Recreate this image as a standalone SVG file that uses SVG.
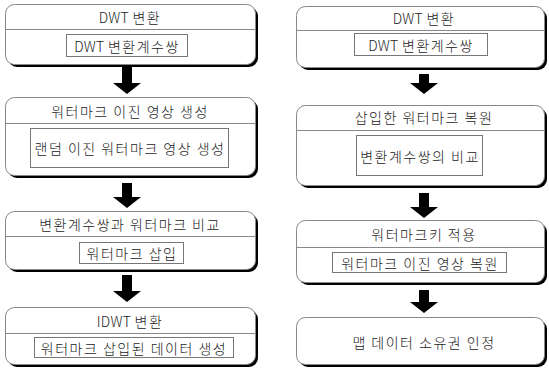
<svg xmlns="http://www.w3.org/2000/svg" width="549" height="369" viewBox="0 0 549 369">
<style>
.sh{fill:#000}
.box{fill:#fff;stroke:#888;stroke-width:1}
.div{stroke:#888;stroke-width:1}
.in{fill:#fff;stroke:#777;stroke-width:1}
.t{font-family:"Noto Sans CJK KR","Noto Sans",sans-serif;font-size:14px;font-weight:300;letter-spacing:1.5px;fill:#222;text-anchor:middle;dominant-baseline:central}
.l{letter-spacing:0.3px}
.arr{fill:#000}
</style>
<rect x="0" y="0" width="549" height="369" fill="#fff"/>
<g id="L1">
<rect class="sh" x="8" y="7" width="250" height="60" rx="9"/>
<rect class="box" x="5.5" y="4.5" width="250" height="60" rx="9"/>
<line class="div" x1="5.5" y1="29.5" x2="255.5" y2="29.5"/>
<text class="t" x="130" y="17"><tspan class="l">DWT </tspan>변환</text>
<rect class="in" x="66.5" y="34.5" width="121" height="22"/>
<text class="t" x="127" y="45.5"><tspan class="l">DWT </tspan>변환계수쌍</text>
</g>
<g id="L2">
<rect class="sh" x="8" y="100" width="250" height="78" rx="9"/>
<rect class="box" x="5.5" y="97.5" width="250" height="78" rx="9"/>
<line class="div" x1="5.5" y1="123.5" x2="255.5" y2="123.5"/>
<text class="t" x="130" y="111">워터마크 이진 영상 생성</text>
<rect class="in" x="30.5" y="128.5" width="198" height="39"/>
<text class="t" x="130" y="148">랜덤 이진 워터마크 영상 생성</text>
</g>
<g id="L3">
<rect class="sh" x="8" y="214" width="250" height="58" rx="9"/>
<rect class="box" x="5.5" y="211.5" width="250" height="58" rx="9"/>
<line class="div" x1="5.5" y1="236.5" x2="255.5" y2="236.5"/>
<text class="t" x="130" y="223.5">변환계수쌍과 워터마크 비교</text>
<rect class="in" x="79.5" y="242.5" width="104" height="21"/>
<text class="t" x="132" y="253">워터마크 삽입</text>
</g>
<g id="L4">
<rect class="sh" x="8" y="310" width="250" height="57" rx="9"/>
<rect class="box" x="5.5" y="307.5" width="250" height="57" rx="9"/>
<line class="div" x1="5.5" y1="333.5" x2="255.5" y2="333.5"/>
<text class="t" x="130" y="320.5"><tspan class="l">IDWT </tspan>변환</text>
<rect class="in" x="34.5" y="337.5" width="199" height="20"/>
<text class="t" x="134" y="347.5">워터마크 삽입된 데이터 생성</text>
</g>
<g id="R1">
<rect class="sh" x="299" y="9" width="248" height="61" rx="9"/>
<rect class="box" x="296.5" y="6.5" width="248" height="61" rx="9"/>
<line class="div" x1="296.5" y1="30.5" x2="544.5" y2="30.5"/>
<text class="t" x="424" y="18"><tspan class="l">DWT </tspan>변환</text>
<rect class="in" x="354.5" y="33.5" width="133" height="22"/>
<text class="t" x="421" y="44.5"><tspan class="l">DWT </tspan>변환계수쌍</text>
</g>
<g id="R2">
<rect class="sh" x="299" y="108" width="248" height="80" rx="9"/>
<rect class="box" x="296.5" y="105.5" width="248" height="80" rx="9"/>
<line class="div" x1="296.5" y1="130.5" x2="544.5" y2="130.5"/>
<text class="t" x="424" y="117">삽입한 워터마크 복원</text>
<rect class="in" x="356.5" y="135.5" width="126" height="40"/>
<text class="t" x="420" y="155.5">변환계수쌍의 비교</text>
</g>
<g id="R3">
<rect class="sh" x="299" y="223" width="248" height="62" rx="9"/>
<rect class="box" x="296.5" y="220.5" width="248" height="62" rx="9"/>
<line class="div" x1="296.5" y1="247.5" x2="544.5" y2="247.5"/>
<text class="t" x="424" y="234">워터마크키 적용</text>
<rect class="in" x="332.5" y="252.5" width="174" height="20"/>
<text class="t" x="420" y="262.5">워터마크 이진 영상 복원</text>
</g>
<g id="R4">
<rect class="sh" x="299" y="320" width="248" height="47" rx="9"/>
<rect class="box" x="296.5" y="317.5" width="248" height="47" rx="9"/>
<text class="t" x="424" y="342">맵 데이터 소유권 인정</text>
</g>
<g id="connectors">
<path class="arr" d="M122,67 H132 V83 H141 L127,94 L113,83 H122 Z"/>
<path class="arr" d="M122,183 H132 V197 H141 L127,208 L113,197 H122 Z"/>
<path class="arr" d="M122,275 H132 V291 H141 L127,302 L113,291 H122 Z"/>
<path class="arr" d="M419,74 H429 V83 H438 L424,94 L410,83 H419 Z"/>
<path class="arr" d="M419,193 H429 V207 H438 L424,218 L410,207 H419 Z"/>
<path class="arr" d="M419,290 H429 V302 H438 L424,313 L410,302 H419 Z"/>
</g>
</svg>
